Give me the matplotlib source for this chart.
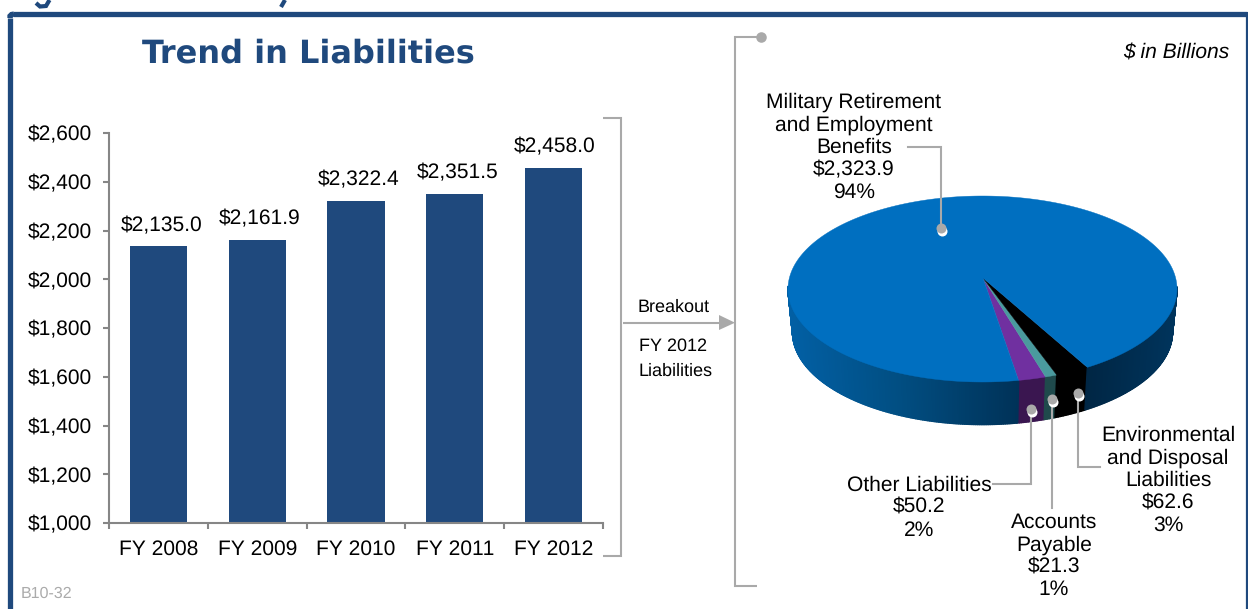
import numpy as np
import matplotlib
matplotlib.use("Agg")
import matplotlib.pyplot as plt
from matplotlib.collections import PolyCollection
from matplotlib.patches import Polygon

# ---- data ----
years = ["FY 2008", "FY 2009", "FY 2010", "FY 2011", "FY 2012"]
liabilities = [2135.0, 2161.9, 2322.4, 2351.5, 2458.0]
y_ticks = [1000, 1200, 1400, 1600, 1800, 2000, 2200, 2400, 2600]

slice_names = ["Other Liabilities", "Accounts\nPayable", "Environmental\nand Disposal\nLiabilities",
               "Military Retirement\nand Employment\nBenefits"]
slice_values = [50.2, 21.3, 62.6, 2323.9]
slice_pcts = ["2%", "1%", "3%", "94%"]
slice_top = ["#7030A0", "#4A9A9E", "#000000", "#006FC0"]
slice_wall = ["#3A1650", "#1F4A4C", "#000000", None]

# ---- style ----
W, H = 1248, 609
FONT = "Liberation Sans"
NAVY = "#1F497D"
GREY = "#A9A9A9"
AXIS = "#868686"
FS = 15

plt.rcParams["font.family"] = [FONT, "DejaVu Sans"]
plt.rcParams["text.hinting"] = "no_hinting"
plt.rcParams["text.hinting_factor"] = 1
fig = plt.figure(figsize=(W / 100, H / 100), dpi=100, facecolor="white")

# overlay in pixel coordinates
ov = fig.add_axes([0, 0, 1, 1], zorder=1)
ov.set_xlim(0, W)
ov.set_ylim(H, 0)
ov.axis("off")

def T(x, y, s, **kw):
    kw.setdefault("fontsize", FS)
    kw.setdefault("ha", "center")
    kw.setdefault("va", "center")
    kw.setdefault("color", "black")
    return ov.text(x, y, s, parse_math=False, **kw)

def L(xs, ys, color=GREY, lw=1.5, **kw):
    ov.plot(xs, ys, color=color, lw=lw, solid_joinstyle="miter", solid_capstyle="butt", **kw)

# frame
L([10, 10], [H, 18], color=NAVY, lw=3.8)
L([10, 10, 11.5, 14], [18, 16, 14.5, 14], color=NAVY, lw=3.8)
L([13, W - 1], [14, 14], color=NAVY, lw=3.8)
L([1246.8, 1246.8], [12, H], color=NAVY, lw=1.6)
# remains of the heading cut off by the crop
L([36, 40, 46, 49.5], [3, 6.5, 6, 0], color=NAVY, lw=3)
L([285, 281], [0, 7], color=NAVY, lw=3)

T(308.5, 53.5, "Trend in Liabilities", family="DejaVu Sans", fontweight="bold", fontsize=23, color=NAVY)
T(1229, 52, "$ in Billions", ha="right", style="italic", fontsize=15.3)
T(21, 594, "B10-32", ha="left", color="#ABABAB", fontsize=11.3)

# ---- bar chart ----
x0, x1, ytop, ybot = 109, 603, 133, 523
ax = fig.add_axes([x0 / W, 1 - ybot / H, (x1 - x0) / W, (ybot - ytop) / H], zorder=2)
ax.patch.set_alpha(0)
pos = np.arange(len(years))
bars = ax.bar(pos, liabilities, width=0.58, color=NAVY)
ax.set_xlim(-0.5, len(years) - 0.5)
ax.set_ylim(y_ticks[0], y_ticks[-1])
ax.set_yticks(y_ticks)
ax.set_yticklabels([f"${v:,}" for v in y_ticks], fontsize=FS, parse_math=False)
ax.set_xticks(pos)
ax.set_xticklabels(years, fontsize=FS)
ax.set_xticks(np.arange(len(years) + 1) - 0.5, minor=True)
ax.tick_params(axis="x", which="major", length=0, pad=12)
ax.tick_params(axis="x", which="minor", length=4.5, width=1.5, color=AXIS)
ax.tick_params(axis="y", length=4.5, width=1.5, color=AXIS, pad=8)
for s in ("top", "right"):
    ax.spines[s].set_visible(False)
for s in ("left", "bottom"):
    ax.spines[s].set_color(AXIS)
    ax.spines[s].set_linewidth(1.5)
for i, (b, v) in enumerate(zip(bars, liabilities)):
    ax.annotate(f"${v:,.1f}", (b.get_x() + b.get_width() / 2, v),
                xytext=(2.0 if i < 4 else 1.0, 8.0),
                textcoords="offset points", ha="center", va="bottom", fontsize=15.3, parse_math=False)

# ---- brackets and breakout arrow ----
L([603, 621, 621, 603], [118, 118, 556, 556])
L([623, 720], [322.7, 322.7])
ov.add_patch(Polygon([[719, 315], [735, 322.7], [719, 330]], closed=True, fc=GREY, ec="none"))
L([758, 734.7, 734.7, 757], [37, 37, 586, 586])
ov.plot([761], [37], "o", ms=7.6, color=GREY, mec="none")
T(638, 307, "Breakout", ha="left", fontsize=12.8)
T(639, 346, "FY 2012", ha="left", fontsize=12.8)
T(639, 371, "Liabilities", ha="left", fontsize=12.8)

# ---- 3D pie (perspective ellipse) ----
cx, cy, rx, ry = 982.5, 289.0, 194.5, 93.0
bcx, bcy, brx, bry = 982.5, 332.0, 190.0, 92.6
apex = (983.0, 278.0)
e = (cy - apex[1]) / ry
b = -1j * e / 2
START = 9.5  # degrees past the bottom point, turning towards the right

def warp(phi_deg):
    p = np.radians(phi_deg)
    z = np.sin(p) + 1j * np.cos(p)
    return (z + b) / (1 + np.conj(b) * z)

def top_pts(w):
    return cx + rx * w.real, cy + ry * w.imag

def bot_pts(w):
    return bcx + brx * w.real, bcy + bry * w.imag

sizes = 360 * np.array(slice_values) / np.sum(slice_values)
starts = START + np.concatenate([[0], np.cumsum(sizes)[:-1]])

def wall_colour(xv):
    stops_x = [788, 900, 1019, 1088, 1177]
    r = np.interp(xv, stops_x, [2, 1, 0, 0, 0])
    g = np.interp(xv, stops_x, [96, 78, 50, 38, 52])
    bl = np.interp(xv, stops_x, [165, 130, 88, 68, 92])
    return (r / 255, g / 255, bl / 255)

# walls
polys, cols = [], []
for s0, sz, wc in zip(starts, sizes, slice_wall):
    phis = np.arange(s0, s0 + sz + 0.5, 0.5)
    phis[-1] = s0 + sz
    for a0, a1 in zip(phis[:-1], phis[1:]):
        w0, w1 = warp(a0), warp(a1)
        if w0.imag < -0.02 and w1.imag < -0.02:
            continue
        x0t, y0t = top_pts(w0)
        x1t, y1t = top_pts(w1)
        x0b, y0b = bot_pts(w0)
        x1b, y1b = bot_pts(w1)
        polys.append([(x0t, y0t), (x1t, y1t), (x1b, y1b), (x0b, y0b)])
        cols.append(wc if wc else wall_colour((x0t + x1t) / 2))
ov.add_collection(PolyCollection(polys, facecolors=cols, edgecolors=cols, linewidths=1.0))

# top faces
for s0, sz, c in zip(starts, sizes, slice_top):
    phis = np.linspace(s0, s0 + sz, max(int(sz * 2), 8))
    xs, ys = top_pts(warp(phis))
    verts = np.vstack([[apex], np.column_stack([xs, ys])])
    ov.add_patch(Polygon(verts, closed=True, fc=c, ec=c, lw=0.3, zorder=3))

# leaders with dots
dots = [(941, 228), (1031, 409), (1052, 399), (1078, 393)]
leaders = [([908, 941, 941], [147, 147, 228]),
           ([993, 1031, 1031], [484, 484, 409]),
           ([1052, 1052], [508, 399]),
           ([1100, 1078, 1078], [467, 467, 393])]
for xs, ys in leaders:
    ov.plot(xs, ys, color=GREY, lw=1.5, solid_joinstyle="miter", zorder=4)
for dx, dy in dots:
    ov.plot([dx + 1], [dy + 3], "o", ms=7.2, color="white", mec="none", zorder=5)
    ov.plot([dx], [dy], "o", ms=7.2, color=GREY, mec="none", zorder=6)

# pie labels
label_pos = [(919, 507.5), (1054, 556), (1168, 480.5), (854, 147.5)]
for (lx, ly), n, v, p in zip(label_pos, slice_names, slice_values, slice_pcts):
    T(lx, ly, f"{n}\n${v:,.1f}\n{p}", multialignment="center", linespacing=1.19, zorder=7)

fig.savefig("out.png", dpi=100)
